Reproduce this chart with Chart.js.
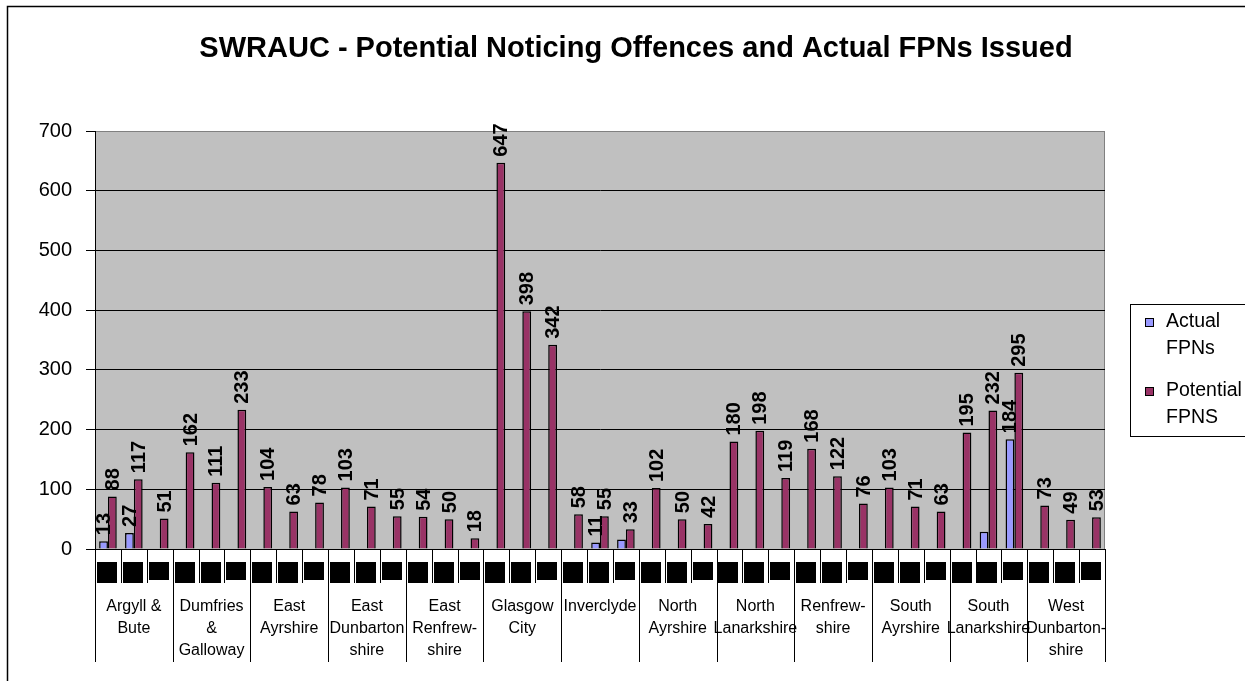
<!DOCTYPE html>
<html><head><meta charset="utf-8">
<script src="https://cdn.jsdelivr.net/npm/chart.js@4"></script>
<style>
html,body{margin:0;padding:0;background:#fff;overflow:hidden}
#wrap{position:relative;width:1245px;height:681px}
canvas{display:block}
</style></head><body>
<div id="wrap"><canvas id="c" width="1245" height="681"></canvas></div>
<script>
const titleText = 'SWRAUC - Potential Noticing Offences and Actual FPNs Issued';
const areas = [
  ['Argyll &','Bute'], ['Dumfries','&','Galloway'], ['East','Ayrshire'],
  ['East','Dunbarton','shire'], ['East','Renfrew-','shire'], ['Glasgow','City'],
  ['Inverclyde'], ['North','Ayrshire'], ['North','Lanarkshire'],
  ['Renfrew-','shire'], ['South','Ayrshire'], ['South','Lanarkshire'],
  ['West','Dunbarton-','shire']
];
const periodsPerArea = 3;
const seriesNames = ['Actual FPNs', 'Potential FPNS'];
const actualFPNs = [
  13, 27, null,   null, null, null,   null, null, null,
  null, null, null,   null, null, null,   null, null, null,
  null, 11, 16,   null, null, null,   null, null, null,
  null, null, null,   null, null, null,   null, 29, 184,
  null, null, null
];
const potentialFPNs = [
  88, 117, 51,   162, 111, 233,   104, 63, 78,
  103, 71, 55,   54, 50, 18,   647, 398, 342,
  58, 55, 33,   102, 50, 42,   180, 198, 119,
  168, 122, 76,   103, 71, 63,   195, 232, 295,
  73, 49, 53
];
const hiddenActualLabels = [20, 34];
const yTickValues = [0, 100, 200, 300, 400, 500, 600, 700];

const categories = [];
areas.forEach((a, g) => { for (let p = 0; p < periodsPerArea; p++) categories.push(a.join(' ') + ' #' + (p + 1)); });

const FONT = 'Arial, "Liberation Sans", sans-serif';
const colors = ['#9999FF', '#993366'];

const decor = {
  id: 'decor',
  beforeDraw(chart) {
    const {ctx, chartArea: ca} = chart;
    ctx.save();
    ctx.fillStyle = '#C0C0C0';
    ctx.fillRect(ca.left, ca.top, ca.right - ca.left, ca.bottom - ca.top);
    ctx.strokeStyle = '#808080';
    ctx.lineWidth = 1;
    ctx.beginPath();
    ctx.moveTo(ca.left, ca.top + 0.5);
    ctx.lineTo(ca.right - 0.5, ca.top + 0.5);
    ctx.lineTo(ca.right - 0.5, ca.bottom);
    ctx.stroke();
    ctx.restore();
  },
  afterDatasetsDraw(chart) {
    const {ctx} = chart;
    ctx.save();
    ctx.font = 'bold 20px ' + FONT;
    ctx.fillStyle = '#000';
    ctx.textAlign = 'left';
    ctx.textBaseline = 'middle';
    chart.data.datasets.forEach((ds, di) => {
      const meta = chart.getDatasetMeta(di);
      meta.data.forEach((el, i) => {
        const v = ds.data[i];
        if (v === null || v === undefined) return;
        if (di === 0 && hiddenActualLabels.includes(i)) return;
        ctx.save();
        ctx.translate(el.x + 1, el.y - 6);
        ctx.rotate(-Math.PI / 2);
        ctx.fillText(String(v), 0, 0);
        ctx.restore();
      });
    });
    ctx.restore();
  },
  afterDraw(chart) {
    const {ctx, chartArea: ca} = chart;
    const xs = chart.scales.x;
    const n = categories.length;
    const cw = (ca.right - ca.left) / n;
    ctx.save();
    // title
    ctx.fillStyle = '#000';
    ctx.font = 'bold 29px ' + FONT;
    ctx.textAlign = 'center';
    ctx.textBaseline = 'middle';
    ctx.fillText(titleText, 636, 49);
    // category cells
    ctx.strokeStyle = '#000';
    ctx.lineWidth = 1;
    for (let i = 0; i <= n; i++) {
      const x = Math.round(ca.left + i * cw) + 0.5;
      const isGroup = i % periodsPerArea === 0;
      ctx.beginPath();
      ctx.moveTo(x, ca.bottom);
      ctx.lineTo(x, isGroup ? ca.bottom + 113 : ca.bottom + 34);
      ctx.stroke();
    }
    // sub-category labels (rendered as unreadable black boxes in the reference)
    ctx.fillStyle = '#000';
    for (let i = 0; i < n; i++) {
      const cx = xs.getPixelForValue(i);
      const h = (i % periodsPerArea === 2) ? 18 : 21;
      ctx.fillRect(Math.round(cx - 11), ca.bottom + 13, 20, h);
    }
    // group labels
    ctx.font = '16px ' + FONT;
    ctx.textAlign = 'center';
    ctx.textBaseline = 'middle';
    areas.forEach((lines, g) => {
      const cx = ca.left + (g * periodsPerArea + periodsPerArea / 2) * cw;
      lines.forEach((t, li) => ctx.fillText(t, cx, ca.bottom + 58 + li * 22));
    });
    // legend
    ctx.strokeStyle = '#000';
    ctx.strokeRect(1130.5, 304.5, 200, 132);
    ctx.font = '19.5px ' + FONT;
    ctx.textAlign = 'left';
    ctx.textBaseline = 'middle';
    const legendTop = [322, 391];
    seriesNames.forEach((name, i) => {
      const words = name.split(' ');
      const y0 = legendTop[i];
      ctx.fillStyle = colors[i];
      ctx.fillRect(1145, y0 - 4, 9, 9);
      ctx.strokeRect(1145.5, y0 - 3.5, 8, 8);
      ctx.fillStyle = '#000';
      ctx.fillText(words[0], 1166, y0);
      ctx.fillText(words.slice(1).join(' '), 1166, y0 + 27);
    });
    // outer frame
    ctx.strokeStyle = '#000';
    ctx.lineWidth = 1.5;
    ctx.beginPath();
    ctx.moveTo(7.5, 700);
    ctx.lineTo(7.5, 6.5);
    ctx.lineTo(1260, 6.5);
    ctx.stroke();
    ctx.restore();
  }
};

new Chart(document.getElementById('c'), {
  type: 'bar',
  data: {
    labels: categories,
    datasets: [
      { label: seriesNames[0], data: actualFPNs, backgroundColor: colors[0], borderColor: '#000', borderWidth: 1.5,
        categoryPercentage: 0.68, barPercentage: 1 },
      { label: seriesNames[1], data: potentialFPNs, backgroundColor: colors[1], borderColor: '#000', borderWidth: 1.5,
        categoryPercentage: 0.68, barPercentage: 1 }
    ]
  },
  options: {
    responsive: false,
    animation: false,
    devicePixelRatio: 1,
    layout: { padding: { left: 0, right: 140, top: 131, bottom: 0 } },
    plugins: { legend: { display: false }, title: { display: false }, tooltip: { enabled: false } },
    scales: {
      x: {
        grid: { display: false },
        ticks: { display: false },
        border: { display: true, color: '#000', width: 1 },
        afterFit(s) { s.height = 132; }
      },
      y: {
        min: 0, max: 700,
        afterBuildTicks(s) { s.ticks = yTickValues.map(v => ({ value: v })); },
        ticks: { font: { size: 20, family: FONT }, color: '#000', padding: 14 },
        grid: { color: ctx => (ctx.tick && ctx.tick.value === 700 ? '#808080' : '#000'), tickColor: '#000', tickLength: 9, lineWidth: 1 },
        border: { display: true, color: '#000', width: 1 },
        afterFit(s) { s.width = 95; }
      }
    }
  },
  plugins: [decor]
});
</script>
</body></html>
